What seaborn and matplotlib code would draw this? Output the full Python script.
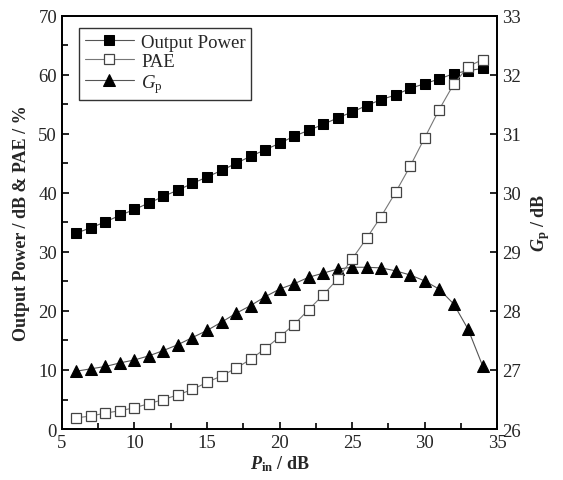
import numpy as np
import pandas as pd
import matplotlib
matplotlib.use("Agg")
import matplotlib.pyplot as plt
import seaborn as sns
from matplotlib.ticker import MultipleLocator

# input power sweep, dB
pin = list(range(6, 35))

# output power, dB
p_out = [33.2, 34.1, 35.1, 36.2, 37.2, 38.3, 39.4, 40.5, 41.6, 42.7,
         43.8, 45.0, 46.2, 47.3, 48.4, 49.6, 50.6, 51.6, 52.7, 53.7,
         54.8, 55.8, 56.6, 57.7, 58.5, 59.3, 60.2, 60.7, 61.1]

# power added efficiency, %
pae = [1.9, 2.2, 2.7, 3.1, 3.6, 4.3, 5.0, 5.8, 6.7, 7.9,
       9.0, 10.3, 11.8, 13.6, 15.6, 17.7, 20.2, 22.7, 25.4, 28.8,
       32.3, 36.0, 40.1, 44.5, 49.3, 54.1, 58.4, 61.4, 62.6]

# gain, dB
gp = [26.98, 27.02, 27.06, 27.12, 27.17, 27.24, 27.33, 27.43, 27.55, 27.67,
      27.81, 27.96, 28.09, 28.24, 28.37, 28.46, 28.57, 28.64, 28.71, 28.74,
      28.74, 28.73, 28.68, 28.61, 28.51, 28.37, 28.12, 27.69, 27.07]

df = pd.DataFrame({"pin": pin, "p_out": p_out, "pae": pae, "gp": gp})

sns.set_style("ticks")
plt.rcParams["font.family"] = ["Liberation Serif", "DejaVu Serif"]
plt.rcParams["mathtext.fontset"] = "custom"
plt.rcParams["mathtext.rm"] = "Liberation Serif"
plt.rcParams["mathtext.it"] = "Liberation Serif:italic"
plt.rcParams["mathtext.bf"] = "Liberation Serif:italic:bold"
plt.rcParams["mathtext.sf"] = "Liberation Serif:bold"

fig = plt.figure(figsize=(5.63, 4.81), dpi=100)
ax = fig.add_axes([0.110, 0.106, 0.773, 0.859])
ax2 = ax.twinx()

sns.lineplot(data=df, x="pin", y="p_out", ax=ax, color="#555555", linewidth=0.8,
             marker="s", markersize=6.5, markerfacecolor="black",
             markeredgecolor="black", label="Output Power", legend=False)
sns.lineplot(data=df, x="pin", y="pae", ax=ax, color="#777777", linewidth=0.8,
             marker="s", markersize=6.5, markerfacecolor="white",
             markeredgecolor="#444444", markeredgewidth=0.9, label="PAE",
             legend=False)
sns.lineplot(data=df, x="pin", y="gp", ax=ax2, color="#555555", linewidth=0.8,
             marker="^", markersize=8.5, markerfacecolor="black",
             markeredgecolor="black", label=r"$G_\mathrm{p}$", legend=False)

ax.set_xlim(5, 35)
ax.set_ylim(0, 70)
ax2.set_ylim(26, 33)

ax.xaxis.set_major_locator(MultipleLocator(5))
ax.xaxis.set_minor_locator(MultipleLocator(2.5))
ax.yaxis.set_major_locator(MultipleLocator(10))
ax.yaxis.set_minor_locator(MultipleLocator(5))
ax2.yaxis.set_major_locator(MultipleLocator(1))

for a in (ax, ax2):
    for s in a.spines.values():
        s.set_linewidth(1.3)
        s.set_color("black")
ax.tick_params(axis="both", which="both", direction="in", labelsize=13.5,
               width=1.2, color="black", top=False, right=False)
ax.tick_params(which="major", length=5)
ax.tick_params(which="minor", length=4)
ax2.tick_params(axis="y", which="both", direction="in", labelsize=13.5,
                width=1.2, length=5, color="black")

ax.set_xlabel(r"$\mathbf{P}_\mathsf{in}$ / dB", fontsize=13, fontweight="bold",
              labelpad=2)
ax.set_ylabel("Output Power / dB & PAE / %", fontsize=13, fontweight="bold",
              labelpad=6)
ax2.set_ylabel(r"$\mathbf{G}_\mathsf{p}$ / dB", fontsize=13, fontweight="bold",
               labelpad=6)

h1, l1 = ax.get_legend_handles_labels()
h2, l2 = ax2.get_legend_handles_labels()
leg = ax.legend(h1 + h2, l1 + l2, loc="upper left", bbox_to_anchor=(0.04, 0.97),
                fontsize=13.5, frameon=True, fancybox=False, edgecolor="black",
                handlelength=2.6, handletextpad=0.4, borderpad=0.3,
                labelspacing=0.1, borderaxespad=0)
leg.get_frame().set_linewidth(1.0)

ax.set_zorder(ax2.get_zorder() + 1)
ax.patch.set_visible(False)

fig.savefig("out.png", dpi=100, facecolor="white")
